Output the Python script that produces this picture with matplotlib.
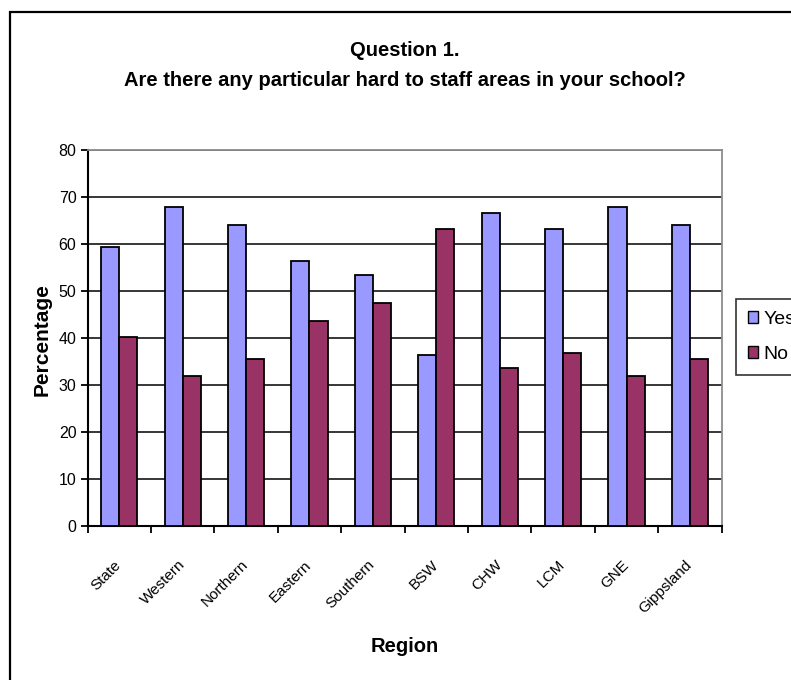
import matplotlib
matplotlib.use("Agg")
import matplotlib.pyplot as plt
from matplotlib.patches import Rectangle, Patch
from matplotlib.transforms import ScaledTranslation
import numpy as np

plt.rcParams['font.family'] = ['Liberation Sans', 'DejaVu Sans']

regions = ["State", "Western", "Northern", "Eastern", "Southern",
           "BSW", "CHW", "LCM", "GNE", "Gippsland"]
yes_pct = [59.3, 67.8, 64.0, 56.4, 53.4, 36.4, 66.5, 63.2, 67.8, 64.0]
no_pct = [40.2, 31.8, 35.6, 43.6, 47.5, 63.2, 33.5, 36.8, 31.8, 35.6]
y_ticks = [0, 10, 20, 30, 40, 50, 60, 70, 80]

W, H = 791, 680
fig = plt.figure(figsize=(W / 100, H / 100), dpi=100)
fig.patch.set_facecolor("white")

# outer chart frame (runs off the right/bottom edge)
fig.patches.append(Rectangle((9.5 / W, -1), 2, 2 - 11.5 / H,
                             transform=fig.transFigure, fill=False,
                             edgecolor="black", linewidth=1.6))

left, right = 87.5 / W, 721.7 / W
bottom, top = 1 - 525.7 / H, 1 - 150 / H
ax = fig.add_axes([left, bottom, right - left, top - bottom])

x = np.arange(len(regions))
bw = 1 / 3.5
ax.bar(x - bw / 2, yes_pct, bw, color="#9999FF", edgecolor="black",
       linewidth=1.3, label="Yes", zorder=3)
ax.bar(x + bw / 2, no_pct, bw, color="#993366", edgecolor="black",
       linewidth=1.3, label="No", zorder=3)

ax.set_xlim(-0.5, len(regions) - 0.5)
ax.set_ylim(0, 80)
ax.set_yticks(y_ticks)
ax.set_yticklabels([str(v) for v in y_ticks], fontsize=11.5)
ax.yaxis.grid(True, color="black", linewidth=1.1, zorder=0)
ax.set_axisbelow(True)

# category separators as major ticks, names on minor ticks
ax.set_xticks(np.arange(len(regions) + 1) - 0.5)
ax.set_xticklabels([])
ax.set_xticks(x, minor=True)
ax.set_xticklabels(regions, minor=True, rotation=45, ha="right",
                   va="top", rotation_mode="anchor", fontsize=11)
ax.tick_params(axis="x", which="minor", length=0, pad=23)
ax.tick_params(axis="both", which="major", direction="out", length=5,
               width=1.3, color="black")
ax.tick_params(axis="y", which="major", pad=3)
shift = ScaledTranslation(-5 / 100, 0, fig.dpi_scale_trans)
for lbl in ax.get_xticklabels(minor=True):
    lbl.set_transform(lbl.get_transform() + shift)

for side in ("top", "right"):
    ax.spines[side].set_color("#8c8c8c")
    ax.spines[side].set_linewidth(1.3)
for side in ("left", "bottom"):
    ax.spines[side].set_color("black")
    ax.spines[side].set_linewidth(1.5)

fig.text(404.6 / W, 1 - 50 / H, "Question 1.", ha="center", va="center",
         fontsize=14.5, fontweight="bold")
fig.text(404.6 / W, 1 - 80 / H,
         "Are there any particular hard to staff areas in your school?",
         ha="center", va="center", fontsize=14.5, fontweight="bold")
fig.text(404.6 / W, 1 - 647 / H, "Region", ha="center", va="center",
         fontsize=14.5, fontweight="bold")
fig.text(42 / W, 1 - 340 / H, "Percentage", ha="center", va="center",
         rotation=90, fontsize=15, fontweight="bold")

handles = [Patch(facecolor="#9999FF", edgecolor="black", linewidth=1.0),
           Patch(facecolor="#993366", edgecolor="black", linewidth=1.0)]
leg = fig.legend(handles, ["Yes", "No"], loc="upper left",
                 bbox_to_anchor=(736 / W, 1 - 299 / H), fontsize=14,
                 frameon=True, fancybox=False, handlelength=0.55,
                 handleheight=0.55, handletextpad=0.25, borderpad=0.6,
                 labelspacing=0.95, borderaxespad=0)
leg.get_frame().set_edgecolor("black")
leg.get_frame().set_linewidth(1.2)

fig.savefig("out.png", dpi=100)
